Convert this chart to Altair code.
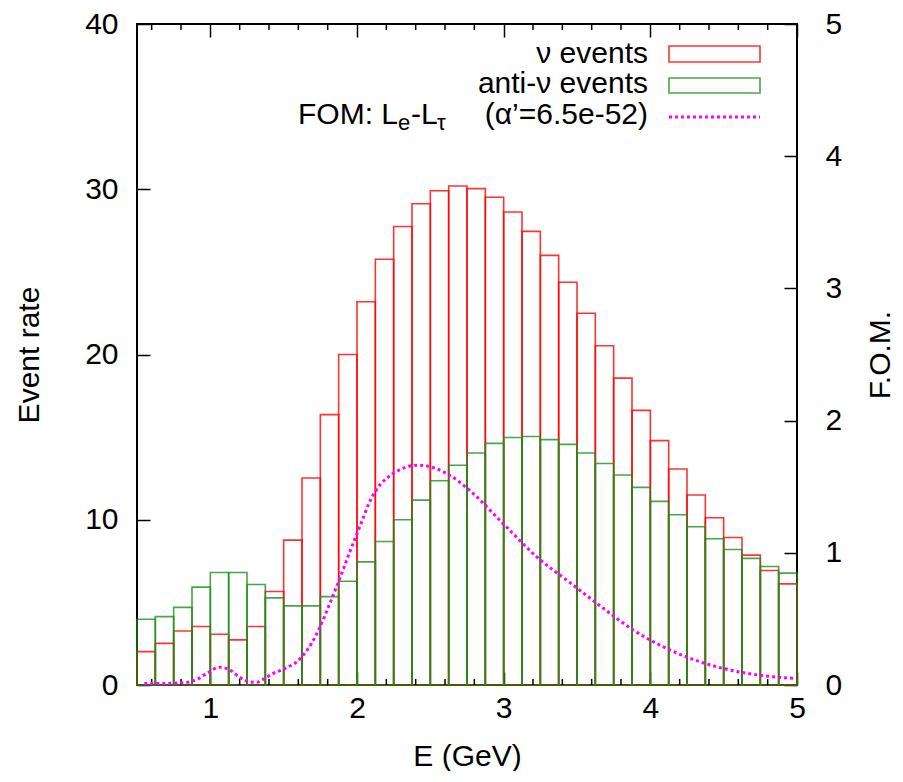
import altair as alt
import pandas as pd

FONT = "Liberation Sans"

# Bin edges in E (GeV)
edges = [0.5, 0.625, 0.75, 0.875, 1.0, 1.125, 1.25, 1.375, 1.5, 1.625, 1.75, 1.875,
         2.0, 2.125, 2.25, 2.375, 2.5, 2.625, 2.75, 2.875, 3.0, 3.125, 3.25, 3.375,
         3.5, 3.625, 3.75, 3.875, 4.0, 4.125, 4.25, 4.375, 4.5, 4.625, 4.75, 4.875, 5.0]

nu_events = [2.02, 2.52, 3.27, 3.54, 3.07, 2.73, 3.54, 5.66, 8.77, 12.53, 16.36, 20.0,
             23.19, 25.76, 27.75, 29.12, 29.91, 30.2, 30.04, 29.52, 28.62, 27.45, 26.0, 24.37,
             22.5, 20.53, 18.57, 16.62, 14.79, 13.07, 11.5, 10.12, 8.93, 7.86, 6.93, 6.12]

anti_events = [3.98, 4.14, 4.7, 5.92, 6.81, 6.81, 6.08, 5.27, 4.79, 4.79, 5.35, 6.28,
               7.45, 8.68, 10.0, 11.19, 12.36, 13.3, 14.04, 14.62, 14.98, 15.04, 14.85, 14.56,
               14.04, 13.4, 12.71, 11.96, 11.11, 10.3, 9.58, 8.85, 8.2, 7.66, 7.17, 6.77]

fom_E = [0.55, 0.7, 0.84, 0.91, 0.975, 1.066, 1.134, 1.2, 1.27, 1.316, 1.36, 1.43, 1.52,
         1.59, 1.634, 1.69, 1.748, 1.816, 1.884, 1.952, 2.02, 2.088, 2.247, 2.418, 2.634,
         2.77, 2.997, 3.225, 3.45, 3.68, 3.883, 4.11, 4.338, 4.565, 4.79, 4.985]
fom_val = [0.012, 0.012, 0.02, 0.043, 0.088, 0.134, 0.113, 0.058, 0.023, 0.02, 0.043, 0.088,
           0.131, 0.176, 0.227, 0.315, 0.44, 0.62, 0.81, 1.01, 1.2, 1.39, 1.6, 1.663, 1.585,
           1.47, 1.22, 0.97, 0.776, 0.58, 0.416, 0.277, 0.176, 0.108, 0.068, 0.05]

x_major = [1, 2, 3, 4, 5]
x_minor = [0.6, 0.8, 1.2, 1.4, 1.6, 1.8, 2.2, 2.4, 2.6, 2.8, 3.2, 3.4, 3.6, 3.8,
           4.2, 4.4, 4.6, 4.8]
y_left_ticks = [0, 10, 20, 30, 40]
y_right_ticks = [0, 1, 2, 3, 4, 5]

series_names = ["nu", "anti"]
series_colors = ["#ff0000", "#1a8f1a"]

W, H = 660, 661

# long-form bar table: all nu bars first, then anti bars (drawn on top)
rows = []
for k, (name, vals) in enumerate([("nu", nu_events), ("anti", anti_events)]):
    for i, v in enumerate(vals):
        rows.append({"lo": edges[i], "hi": edges[i + 1], "rate": v, "series": name,
                     "order_key": k})
bars = pd.DataFrame(rows)

x_enc = alt.X(
    "lo:Q",
    scale=alt.Scale(domain=[0.5, 5], nice=False, zero=False),
    axis=alt.Axis(orient="bottom", values=x_major, format="d", offset=-13, tickSize=13,
                  domain=False, grid=False, labelPadding=8, labelFlush=False,
                  title="E (GeV)", titlePadding=18),
)

bar_layer = alt.Chart(bars).mark_rect(fillOpacity=0, strokeWidth=1.6, strokeOpacity=0.8).encode(
    x=x_enc,
    x2="hi:Q",
    y=alt.Y("rate:Q", scale=alt.Scale(domain=[0, 40], nice=False),
            axis=alt.Axis(orient="left", values=y_left_ticks, offset=-13, tickSize=13,
                          domain=False, grid=False, labelPadding=19, labelFlush=False,
                          title="Event rate", titlePadding=40)),
    y2=alt.datum(0),
    stroke=alt.Stroke("series:N", scale=alt.Scale(domain=series_names, range=series_colors),
                      legend=None),
    order=alt.Order("order_key:Q"),
)

minor_df = pd.DataFrame({"lo": x_minor})
minor_bottom = alt.Chart(minor_df).mark_rule(color="black", strokeWidth=1.5).encode(
    x=x_enc, y=alt.value(H), y2=alt.value(H - 6))
minor_top = alt.Chart(minor_df).mark_rule(color="black", strokeWidth=1.5).encode(
    x=x_enc, y=alt.value(0), y2=alt.value(6))

one = pd.DataFrame({"k": [0]})

def label(txt, x, y, size=30, align="right"):
    return alt.Chart(one).mark_text(text=txt, font=FONT, fontSize=size, align=align,
                                    baseline="alphabetic", color="black").encode(
        x=alt.value(x), y=alt.value(y))

leg_nu_t = label("ν events", 511, 39)
leg_anti_t = label("anti-ν events", 511, 69)
leg_f1 = label("FOM: L", 261, 100, align="right")
leg_f2 = label("e", 261, 106, size=22, align="left")
leg_f3 = label("-L", 274, 100, align="left")
leg_f4 = label("τ", 300, 106, size=22, align="left")
leg_f5 = label("(α’=6.5e-52)", 511, 100)

leg_nu_r = alt.Chart(one).mark_rect(fillOpacity=0, stroke="#ff0000", strokeWidth=1.6,
                                    strokeOpacity=0.8).encode(
    x=alt.value(532), x2=alt.value(623), y=alt.value(22), y2=alt.value(38))
leg_anti_r = alt.Chart(one).mark_rect(fillOpacity=0, stroke="#1a8f1a", strokeWidth=1.6,
                                      strokeOpacity=0.8).encode(
    x=alt.value(532), x2=alt.value(623), y=alt.value(54), y2=alt.value(69))
leg_fom_l = alt.Chart(one).mark_rule(color="#ff00ff", strokeWidth=3, strokeDash=[3, 3]).encode(
    x=alt.value(532), x2=alt.value(623), y=alt.value(93))

inner = alt.layer(bar_layer, minor_bottom, minor_top,
                  leg_nu_r, leg_anti_r, leg_fom_l,
                  leg_nu_t, leg_anti_t, leg_f1, leg_f2, leg_f3, leg_f4, leg_f5)

fom_df = pd.DataFrame({"E": fom_E, "fom": fom_val})
fom_layer = alt.Chart(fom_df).mark_line(color="#ff00ff", strokeWidth=3, strokeDash=[3, 3],
                                        interpolate="monotone").encode(
    x=alt.X("E:Q", scale=alt.Scale(domain=[0.5, 5], nice=False, zero=False),
            axis=alt.Axis(orient="top", values=x_major, labels=False, offset=-13, tickSize=13,
                          domain=False, grid=False, title=None)),
    y=alt.Y("fom:Q", scale=alt.Scale(domain=[0, 5], nice=False),
            axis=alt.Axis(orient="right", values=y_right_ticks, format="d", offset=-13,
                          tickSize=13, domain=False, grid=False, labelPadding=28,
                          labelFlush=False,
                          title="F.O.M.", titleAngle=270, titleBaseline="top",
                          titlePadding=24)),
)

chart = alt.layer(inner, fom_layer).resolve_scale(x="independent", y="independent").properties(
    width=W, height=H,
    autosize=alt.AutoSizeParams(type="none"),
    padding={"left": 129, "top": 16, "right": 98, "bottom": 86},
).configure_view(stroke="black", strokeWidth=2).configure_axis(
    labelFont=FONT, labelFontSize=30, labelColor="black",
    titleFont=FONT, titleFontSize=30, titleFontWeight="normal", titleColor="black",
    tickColor="black", tickWidth=1.5,
)

chart.save("out.html", embed_options={"renderer": "svg", "actions": False})
